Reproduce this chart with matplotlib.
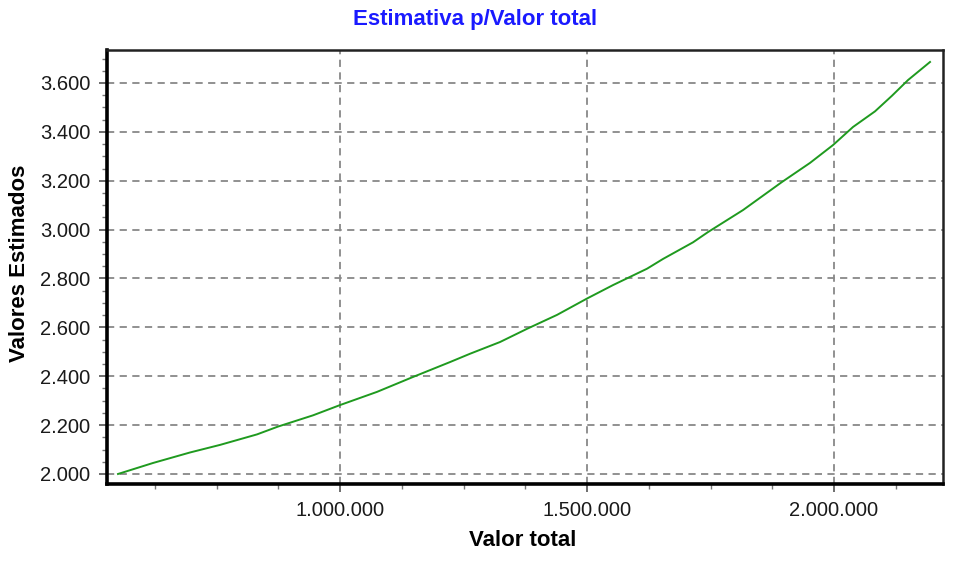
import matplotlib
matplotlib.use("Agg")
import matplotlib.pyplot as plt
from matplotlib.ticker import FuncFormatter, MultipleLocator

plt.rcParams["font.family"] = ["Liberation Sans", "DejaVu Sans"]

# values
valor_total = [
    550600, 621450, 696350, 757080, 831980, 874490, 945340, 1000000,
    1074900, 1147770, 1222670, 1263160, 1323890, 1378540, 1439270,
    1500000, 1552630, 1621460, 1653850, 1714580, 1744940, 1815790,
    1894740, 1951420, 1997980, 2038460, 2083000, 2117410, 2149800, 2194340,
]
estimados = [
    2000, 2045, 2088, 2119, 2162, 2194, 2240, 2282,
    2336, 2397, 2458, 2492, 2540, 2594, 2651,
    2718, 2773, 2840, 2880, 2948, 2990, 3080,
    3195, 3273, 3346, 3420, 3484, 3548, 3612, 3686,
]

TITLE = "Estimativa p/Valor total"
XLABEL = "Valor total"
YLABEL = "Valores Estimados"


def br_thousands(v, _pos):
    return f"{v:,.0f}".replace(",", ".")


fig = plt.figure(figsize=(9.65, 5.76), dpi=100, facecolor="white")
ax = fig.add_axes([107 / 965, 1 - 484 / 576, (943 - 107) / 965, (484 - 50) / 576])

ax.plot(valor_total, estimados, color="#1f9a1f", lw=1.4, zorder=3)

ax.set_xlim(528300, 2220600)
ax.set_ylim(1959, 3735)

ax.xaxis.set_major_locator(MultipleLocator(500000))
ax.xaxis.set_minor_locator(MultipleLocator(125000))
ax.yaxis.set_major_locator(MultipleLocator(200))
ax.yaxis.set_minor_locator(MultipleLocator(50))
ax.xaxis.set_major_formatter(FuncFormatter(br_thousands))
ax.yaxis.set_major_formatter(FuncFormatter(br_thousands))

ax.grid(True, which="major", color="#888888", linestyle=(0, (4, 3)), lw=1.3)
ax.tick_params(which="major", direction="out", length=6, width=1.2,
               color="#555555", labelsize=14.5, labelcolor="#1a1a1a", pad=6)
ax.tick_params(which="minor", direction="out", length=3.5, width=1.0,
               color="#777777")

for side in ("left", "bottom"):
    ax.spines[side].set_linewidth(2.6)
    ax.spines[side].set_color("black")
for side in ("top", "right"):
    ax.spines[side].set_linewidth(1.8)
    ax.spines[side].set_color("#222222")

fig.text(475 / 965, 1 - 20 / 576, TITLE, color="#1a1aff", fontsize=16,
         fontweight="bold", ha="center", va="center")
fig.text(523 / 965, 1 - 541 / 576, XLABEL, color="black", fontsize=16,
         fontweight="bold", ha="center", va="center")
fig.text(20 / 965, 1 - 263 / 576, YLABEL, color="black", fontsize=16,
         fontweight="bold", ha="center", va="center", rotation=90)

fig.savefig("out.png", dpi=100, facecolor="white")
